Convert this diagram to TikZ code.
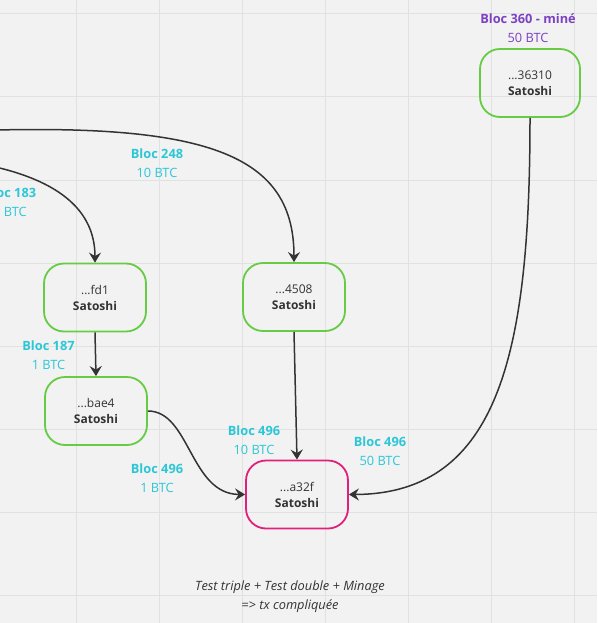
\documentclass[tikz,border=0pt]{standalone}
\usepackage{fontspec}
\setmainfont{Open Sans}
\usetikzlibrary{arrows.meta}
\definecolor{bg}{HTML}{F2F2F2}
\definecolor{gridc}{HTML}{E1E1E1}
\definecolor{boxgreen}{HTML}{66CC44}
\definecolor{boxpink}{HTML}{E0207A}
\definecolor{lblcyan}{HTML}{2CC7D6}
\definecolor{lblpurple}{HTML}{7B42C2}
\definecolor{ink}{HTML}{333333}
\tikzset{
  wallet/.style={draw=boxgreen, line width=1.8pt, rounded corners=20pt, minimum width=102pt, minimum height=68pt, inner sep=0pt, align=center, text=ink, font=\fontsize{12}{16}\selectfont},
  walletpink/.style={wallet, draw=boxpink},
  lbl/.style={align=center, text=lblcyan, font=\fontsize{12.8}{19}\selectfont, inner sep=0pt},
  lblp/.style={lbl, text=lblpurple},
  conn/.style={draw=ink, line width=1.5pt, -{Stealth[length=10pt,width=12pt,inset=3.5pt]}},
  note/.style={align=center, text=ink, font=\fontsize{12.8}{19}\selectfont\itshape, inner sep=0pt}
}
\begin{document}
\begin{tikzpicture}[x=1pt,y=-1pt]
\useasboundingbox (0,0) rectangle (597,623);
\fill[bg] (0,0) rectangle (597,623);
\foreach \x in {76,159,242,325,408,491,574} \draw[gridc, line width=1pt] (\x,0) -- (\x,623);
\foreach \y in {14,97,180,263,346,429,512,595} \draw[gridc, line width=1pt] (0,\y) -- (597,\y);
\begin{scope}
\clip (0,0) rectangle (597,623);
% nodes
\node[wallet] (fd1) at (95,297.5) {...fd1\\\textbf{Satoshi}};
\node[wallet] (n4508) at (294,297) {...4508\\\textbf{Satoshi}};
\node[wallet] (bae4) at (96,411) {...bae4\\\textbf{Satoshi}};
\node[walletpink] (a32f) at (297,494.5) {...a32f\\\textbf{Satoshi}};
\node[wallet, minimum width=100pt] (n36310) at (530,83) {...36310\\\textbf{Satoshi}};
% free ends
\coordinate (srcA) at (-60,132);
\coordinate (srcB) at (-30,162);
% labels
\node[lbl] (l183) at (10,202) {\textbf{Bloc 183}\\1 BTC};
\node[lbl] (l248) at (157,163.5) {\textbf{Bloc 248}\\10 BTC};
\node[lbl] (l187) at (48.5,355.5) {\textbf{Bloc 187}\\1 BTC};
\node[lbl] (l496a) at (254,440) {\textbf{Bloc 496}\\10 BTC};
\node[lbl] (l496b) at (157,478.5) {\textbf{Bloc 496}\\1 BTC};
\node[lbl] (l496c) at (380,451) {\textbf{Bloc 496}\\50 BTC};
\node[lblp] (l360) at (528,28) {\textbf{Bloc 360 - miné}\\50 BTC};
\node[note] (note) at (290,596.5) {Test triple + Test double + Minage\\=> tx compliquée};
% connectors
\draw[conn] (srcA) .. controls (200,120) and (294,150) .. (n4508.north);
\draw[conn] (srcB) .. controls (50,175) and (95,205) .. (fd1.north);
\draw[conn] (fd1.south) -- (bae4.north);
\draw[conn] (n4508.south) -- (a32f.north);
\draw[conn] (bae4.east) .. controls (190,411) and (190,494) .. (a32f.west);
\draw[conn] (n36310.south) .. controls (530,350) and (500,494) .. (a32f.east);
\end{scope}
\end{tikzpicture}
\end{document}
